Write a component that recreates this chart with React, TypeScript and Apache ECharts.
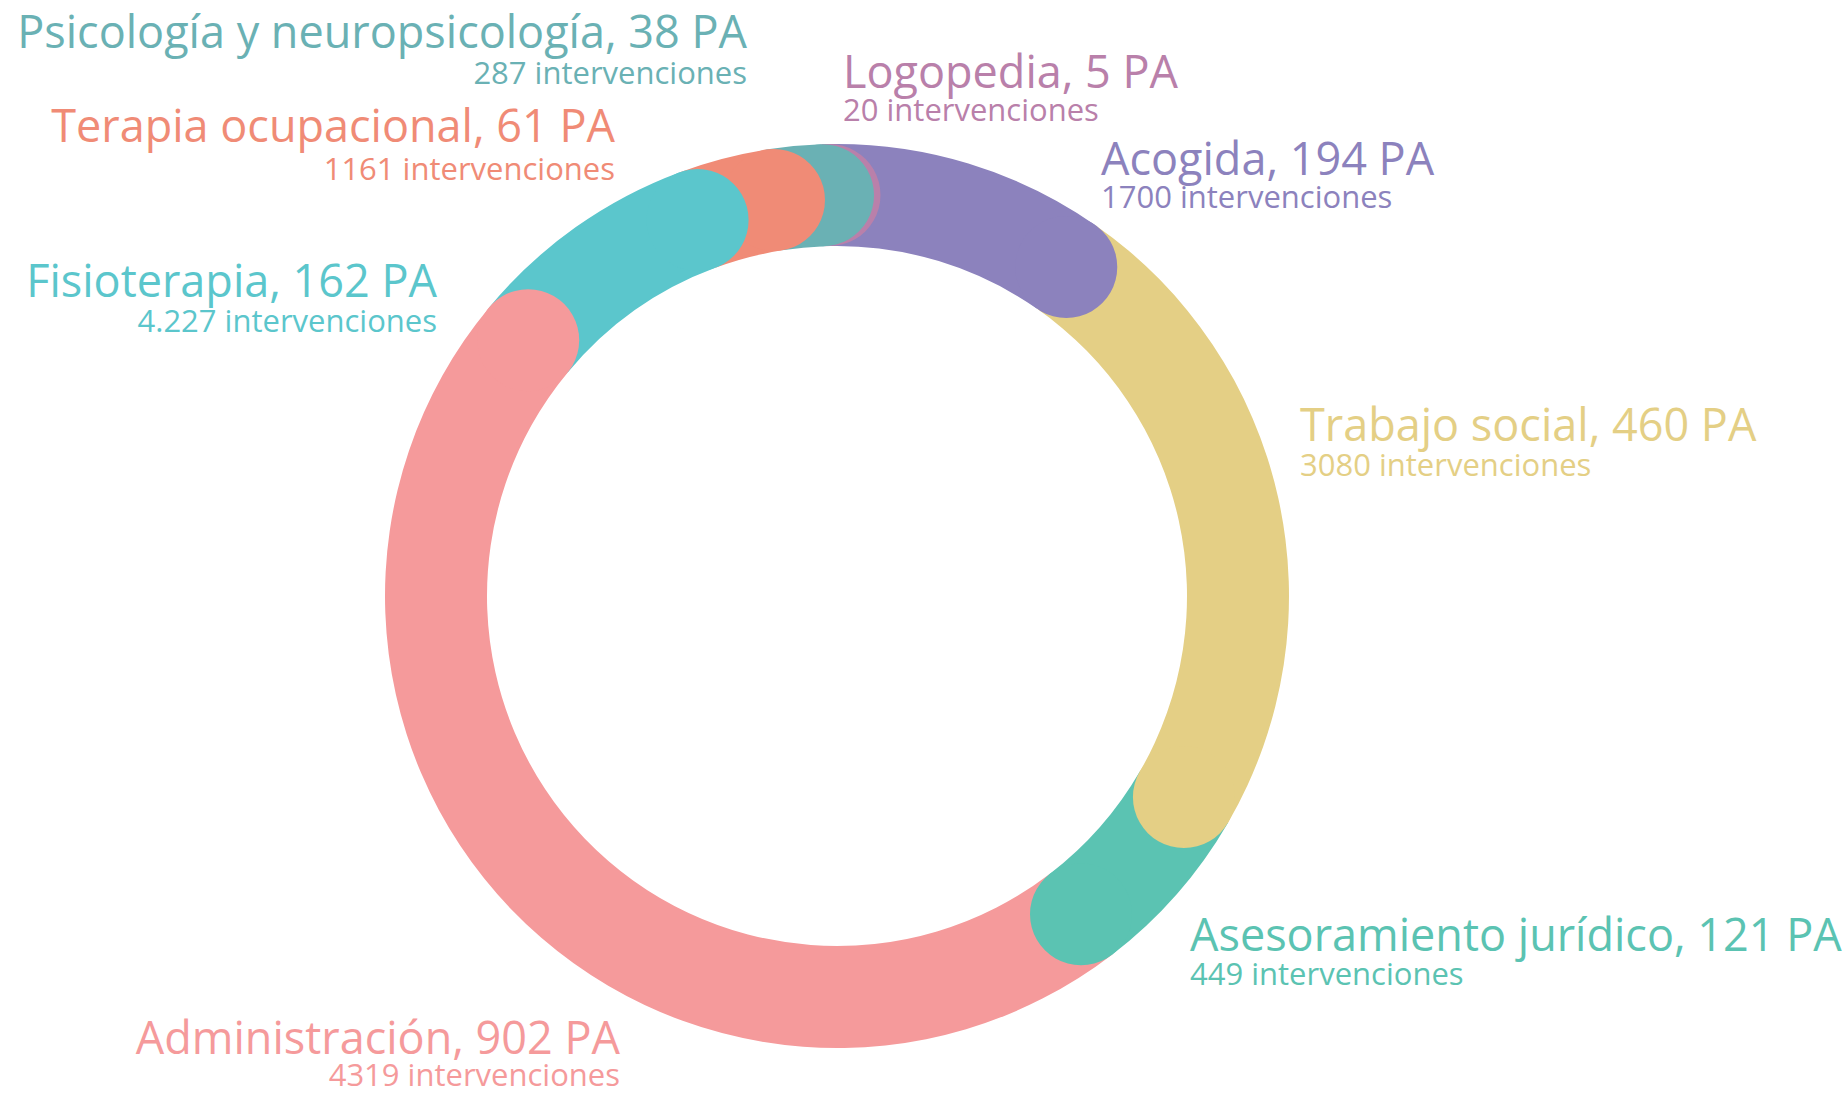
import React, { useEffect, useRef } from "react";
import * as echarts from "echarts";

// Clockwise from the top
const categories = [
  "Logopedia",
  "Acogida",
  "Trabajo social",
  "Asesoramiento jurídico",
  "Administración",
  "Fisioterapia",
  "Terapia ocupacional",
  "Psicología y neuropsicología",
];
const paValues = [5, 194, 460, 121, 902, 162, 61, 38];
const interventionLabels = ["20", "1700", "3080", "449", "4319", "4.227", "1161", "287"];
const colors = ["#B980AA", "#8C82BD", "#E4CF85", "#5BC3B2", "#F59A9B", "#5BC6CC", "#F08B76", "#6AB1B4"];

// label layout: x, title baseline, sub baseline, alignment
const labelX = [843, 1101, 1300, 1190, 620, 437, 615, 747];
const titleBaseline = [84, 171, 437, 947, 1050, 293, 138, 44];
const subBaseline = [118, 205, 473, 982, 1083, 329, 177, 81];
const labelAlign = ["left", "left", "left", "left", "right", "right", "right", "right"];

const TITLE_SIZE = 45;
const SUB_SIZE = 31;
const FONT = '"Open Sans", "Noto Sans", sans-serif';

// cap draw order (bottom to top)
const capOrder = [0, 7, 6, 5, 4, 3, 2, 1];

export default function App() {
  const ref = useRef<HTMLDivElement>(null);
  useEffect(() => {
    document.body.style.margin = "0";
    const chart = echarts.init(ref.current!, null, { renderer: "svg" });
    const total = paValues.reduce((a, b) => a + b, 0);
    const cum: number[] = [];
    let acc = 0;
    paValues.forEach((v) => {
      acc += v;
      cum.push(acc);
    });

    const barSeries = paValues.map((v, i) => ({
      type: "bar",
      coordinateSystem: "polar",
      stack: "ring",
      name: categories[i],
      data: [v],
      barWidth: "100%",
      itemStyle: { color: colors[i] },
      silent: true,
      z: 2,
    }));

    const capSeries = {
      type: "scatter",
      coordinateSystem: "polar",
      symbol: "circle",
      symbolSize: 102,
      silent: true,
      z: 3,
      data: capOrder.map((i) => ({
        value: [0, cum[i]],
        itemStyle: { color: colors[i], opacity: 1 },
      })),
    };

    const graphics: any[] = [];
    categories.forEach((c, i) => {
      graphics.push({
        type: "text",
        x: labelX[i],
        y: titleBaseline[i] - TITLE_SIZE * 0.3,
        silent: true,
        style: {
          text: `${c}, ${paValues[i]} PA`,
          fill: colors[i],
          fontSize: TITLE_SIZE,
          fontFamily: FONT,
          lineHeight: 38,
          textAlign: labelAlign[i],
          textVerticalAlign: "middle",
        },
      });
      graphics.push({
        type: "text",
        x: labelX[i],
        y: subBaseline[i] - SUB_SIZE * 0.3,
        silent: true,
        style: {
          text: `${interventionLabels[i]} intervenciones`,
          fill: colors[i],
          fontSize: SUB_SIZE,
          fontFamily: FONT,
          lineHeight: 24,
          textAlign: labelAlign[i],
          textVerticalAlign: "middle",
        },
      });
    });

    chart.setOption({
      animation: false,
      backgroundColor: "#ffffff",
      polar: { center: [837, 596], radius: [350, 452] },
      angleAxis: {
        type: "value",
        min: 0,
        max: total,
        startAngle: 92,
        clockwise: true,
        show: false,
      },
      radiusAxis: { type: "category", data: ["ring"], show: false },
      series: [...barSeries, capSeries],
      graphic: graphics,
    });
    return () => chart.dispose();
  }, []);
  return <div ref={ref} style={{ width: 1845, height: 1096 }} />;
}
